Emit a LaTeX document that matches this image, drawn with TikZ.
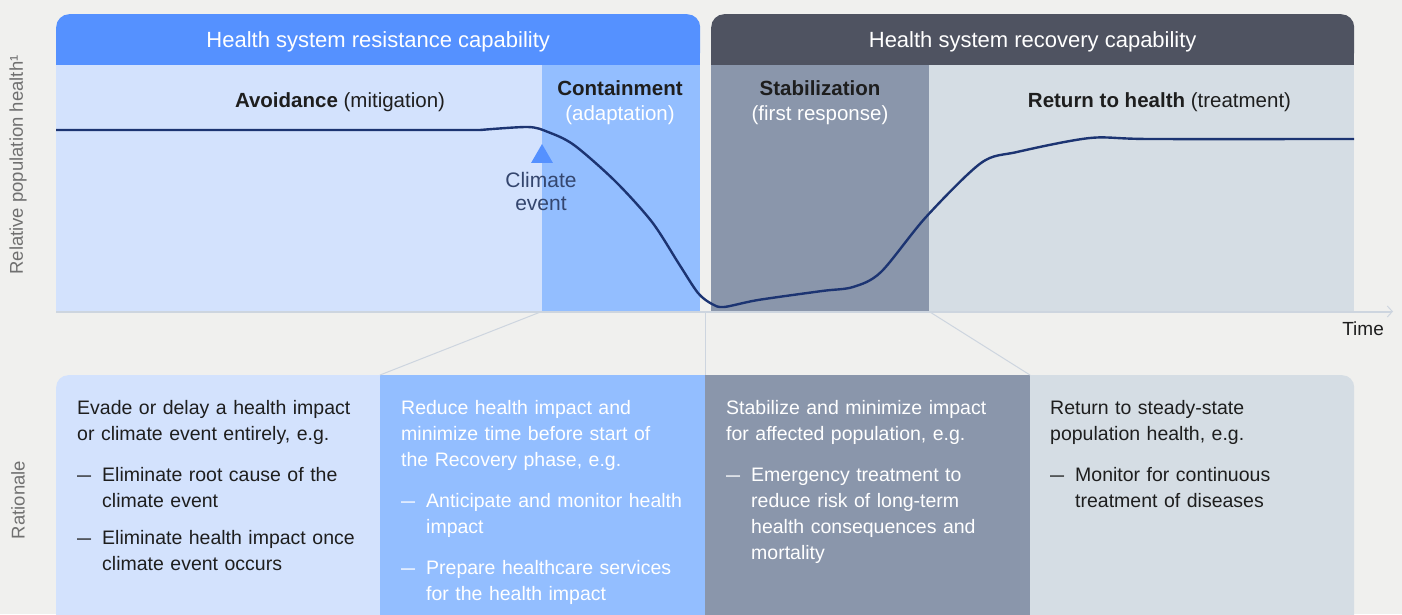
\documentclass[tikz,border=0pt]{standalone}
\usepackage{fontspec}
\setmainfont{Liberation Sans}
\usetikzlibrary{arrows.meta,shapes.geometric}

\definecolor{pagebg}{HTML}{F0F0EE}
\definecolor{resistblue}{HTML}{5591FF}
\definecolor{recoverdark}{HTML}{4F5361}
\definecolor{avoidfill}{HTML}{D3E2FD}
\definecolor{containfill}{HTML}{93BEFF}
\definecolor{stabfill}{HTML}{8A96AB}
\definecolor{returnfill}{HTML}{D5DDE4}
\definecolor{healthnavy}{HTML}{1C3472}
\definecolor{axisgray}{HTML}{CDD5DF}
\definecolor{eventnavy}{HTML}{34466E}
\definecolor{inkdark}{HTML}{1E1E1E}
\definecolor{sidegray}{HTML}{707070}

% one dash item with a hanging second line
\newcommand\dashitem[2][15pt]{\par\vspace{#1}\makebox[25pt][l]{\scalebox{0.72}[1]{—}}\parbox[t]{265pt}{\strut#2\strut}}

\begin{document}
\begin{tikzpicture}[x=1pt,y=-1pt,
    header/.style={anchor=north west, inner sep=0pt, minimum height=51pt,
      rounded corners=13pt, text=white, text depth=0.5pt,
      font=\fontsize{22}{26}\selectfont},
    panel/.style={anchor=north west, inner sep=0pt, minimum height=246pt},
    ratpanel/.style={anchor=north west, inner sep=0pt, minimum height=260pt},
    phase/.style={inner sep=0pt, align=center, text=inkdark,
      font=\fontsize{20.5}{25}\selectfont},
    ratext/.style={anchor=north west, inner sep=0pt, text width=292pt,
      align=left, font=\fontsize{19.5}{26}\selectfont},
    sidelabel/.style={rotate=90, inner sep=0pt, text=sidegray,
      font=\fontsize{18.5}{22}\selectfont},
    link/.style={draw=axisgray, line width=1pt},
    healthline/.style={draw=healthnavy, line width=2.4pt, line join=round}]

  \useasboundingbox (0,0) rectangle (1402,614);
  \clip (0,0) rectangle (1402,614);
  \fill[pagebg] (0,0) rectangle (1402,614);

  % capability headers
  \node[header, fill=resistblue, minimum width=644pt] (resist) at (56,14)
    {Health system resistance capability};
  \fill[resistblue] ([yshift=13pt]resist.south west) rectangle (resist.south east);
  \node[header, fill=recoverdark, minimum width=643pt] (recover) at (711,14)
    {Health system recovery capability};
  \fill[recoverdark] ([yshift=13pt]recover.south west) rectangle (recover.south east);

  % phase bands
  \node[panel, fill=avoidfill, minimum width=486pt] (avoid) at (56,65) {};
  \node[panel, fill=containfill, minimum width=158pt] (contain) at (542,65) {};
  \node[panel, fill=stabfill, minimum width=218pt] (stab) at (711,65) {};
  \node[panel, fill=returnfill, minimum width=425pt] (ret) at (929,65) {};

  \node[phase] (avoidlbl) at (340,102.5) {\textbf{Avoidance} (mitigation)};
  \node[phase] (containlbl) at (620,103)
    {\textbf{Containment}\\\textcolor{white}{(adaptation)}};
  \node[phase] (stablbl) at (820,103)
    {\textbf{Stabilization}\\\textcolor{white}{(first response)}};
  \node[phase] (retlbl) at (1159.5,102.5) {\textbf{Return to health} (treatment)};

  % time axis
  \coordinate (origin) at (56,311.5);
  \coordinate (tend) at (1393,311.5);
  \draw[draw=axisgray, line width=2pt,
    -{Straight Barb[length=5pt,width=11pt,line width=1pt]}] (origin) -- (tend);
  \node[inner sep=0pt, anchor=north east, text=inkdark,
    font=\fontsize{19}{22}\selectfont] (time) at (1384,322) {Time};

  \node[sidelabel] (ylab) at (18,165) {Relative population health¹};

  % population health over time
  \draw[healthline] (56,130) -- plot[smooth, tension=0.5] coordinates {
    (480,130) (528,127) (548,132) (574,145) (615,181)
    (652,222) (679,264) (698,293) (712,304) (724,307) (758,300) (822,291)
    (853,287) (881,272) (926,217) (981,163) (1017,152) (1090,138)
    (1150,139) (1354,139)};

  \node[regular polygon, regular polygon sides=3, fill=resistblue,
    inner sep=0pt, minimum size=25pt] (event) at (542,156.5) {};
  \node[inner sep=0pt, align=center, text=eventnavy,
    font=\fontsize{21}{23}\selectfont] (eventlbl) at (541,191) {Climate\\event};

  % rationale panels
  \node[ratpanel, fill=avoidfill, rounded corners=12pt, minimum width=324pt]
    (rat1) at (56,375) {};
  \fill[avoidfill] (rat1.north) rectangle (rat1.south east);
  \node[ratpanel, fill=containfill, minimum width=325pt] (rat2) at (380,375) {};
  \node[ratpanel, fill=stabfill, minimum width=325pt] (rat3) at (705,375) {};
  \node[ratpanel, fill=returnfill, rounded corners=12pt, minimum width=324pt]
    (rat4) at (1030,375) {};
  \fill[returnfill] (rat4.north west) rectangle (rat4.south);

  \draw[link] (contain.south west) -- (rat2.north west);
  \draw[link] (rat3.north west) -- (rat3.north west |- origin);
  \draw[link] (ret.south west) -- (rat4.north west);

  \node[sidelabel] (ratlab) at (18,500) {Rationale};

  \node[ratext, text=inkdark] (text1) at (77,396)
    {\strut Evade or delay a health impact\\or climate event entirely, e.g.
     \dashitem{Eliminate root cause of the\\climate event}
     \dashitem[10pt]{Eliminate health impact once\\climate event occurs}};
  \node[ratext, text=white] (text2) at (401,396)
    {\strut Reduce health impact and\\minimize time before start of\\the Recovery phase, e.g.
     \dashitem{Anticipate and monitor health\\impact}
     \dashitem[14pt]{Prepare healthcare services\\for the health impact}};
  \node[ratext, text=white] (text3) at (726,396)
    {\strut Stabilize and minimize impact\\for affected population, e.g.
     \dashitem{Emergency treatment to\\reduce risk of long-term\\health consequences and\\mortality}};
  \node[ratext, text=inkdark] (text4) at (1050,396)
    {\strut Return to steady-state\\population health, e.g.
     \dashitem{Monitor for continuous\\treatment of diseases}};
\end{tikzpicture}
\end{document}
